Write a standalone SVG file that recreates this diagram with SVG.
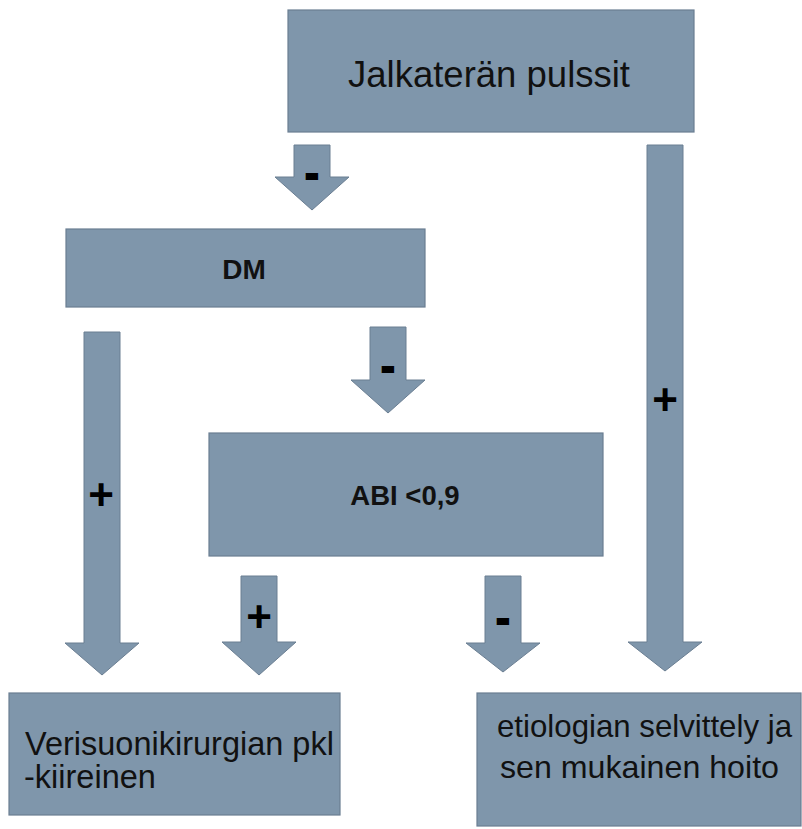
<svg xmlns="http://www.w3.org/2000/svg" width="802" height="829" viewBox="0 0 802 829">
<style>
.box{fill:#7f96ab;stroke:#6a7e92;stroke-width:1.2}
.arr{fill:#7f96ab;stroke:#6a7e92;stroke-width:1}
.t{font-family:"Liberation Sans",Arial,sans-serif;fill:#111}
.b{font-weight:bold}
.sign{font-family:"Liberation Sans",Arial,sans-serif;font-weight:bold;fill:#000;text-anchor:middle}
.minus{font-size:40px;stroke:#000;stroke-width:2.2}
.plus{font-size:44px}
</style>
<rect width="802" height="829" fill="#ffffff"/>
<g id="connectors">
  <g id="arrow-top-dm">
    <polygon class="arr" points="294,145 330,145 330,177 349,177 312,210 275,177 294,177"/>
    <text class="sign minus" x="312" y="187">-</text>
  </g>
  <g id="arrow-top-right">
    <polygon class="arr" points="647,145 683,145 683,642 702,642 665,671 628,642 647,642"/>
    <text class="sign plus" x="665" y="415">+</text>
  </g>
  <g id="arrow-dm-left">
    <polygon class="arr" points="84,332 120,332 120,643 139,643 102,675 65,643 84,643"/>
    <text class="sign plus" x="101" y="510">+</text>
  </g>
  <g id="arrow-dm-abi">
    <polygon class="arr" points="370,327 406,327 406,380 425,380 388,413 351,380 370,380"/>
    <text class="sign minus" x="388" y="380">-</text>
  </g>
  <g id="arrow-abi-plus">
    <polygon class="arr" points="241,576 277,576 277,642 296,642 259,675 222,642 241,642"/>
    <text class="sign plus" x="259" y="632">+</text>
  </g>
  <g id="arrow-abi-minus">
    <polygon class="arr" points="485,576 521,576 521,643 540,643 503,672 466,643 485,643"/>
    <text class="sign minus" x="503" y="632">-</text>
  </g>
</g>
<g id="node-jalkateran">
  <rect class="box" x="288" y="10" width="406" height="122"/>
  <text class="t" x="348" y="87" font-size="36.5">Jalkaterän pulssit</text>
</g>
<g id="node-dm">
  <rect class="box" x="66" y="229" width="359" height="78"/>
  <text class="t b" x="244" y="279" font-size="28" text-anchor="middle">DM</text>
</g>
<g id="node-abi">
  <rect class="box" x="209" y="433" width="394" height="123"/>
  <text class="t b" x="405" y="505" font-size="27.5" text-anchor="middle">ABI &lt;0,9</text>
</g>
<g id="node-verisuoni">
  <rect class="box" x="9" y="693" width="331" height="122"/>
  <text class="t" font-size="32.5"><tspan x="25" y="755">Verisuonikirurgian pkl</tspan><tspan x="24" y="788">-kiireinen</tspan></text>
</g>
<g id="node-etiologia">
  <rect class="box" x="477" y="693" width="324" height="133"/>
  <text class="t" font-size="31.5" x="497" y="737" textLength="295" lengthAdjust="spacingAndGlyphs">etiologian selvittely ja</text>
  <text class="t" font-size="31.5" x="500" y="778" textLength="279" lengthAdjust="spacingAndGlyphs">sen mukainen hoito</text>
</g>
</svg>
